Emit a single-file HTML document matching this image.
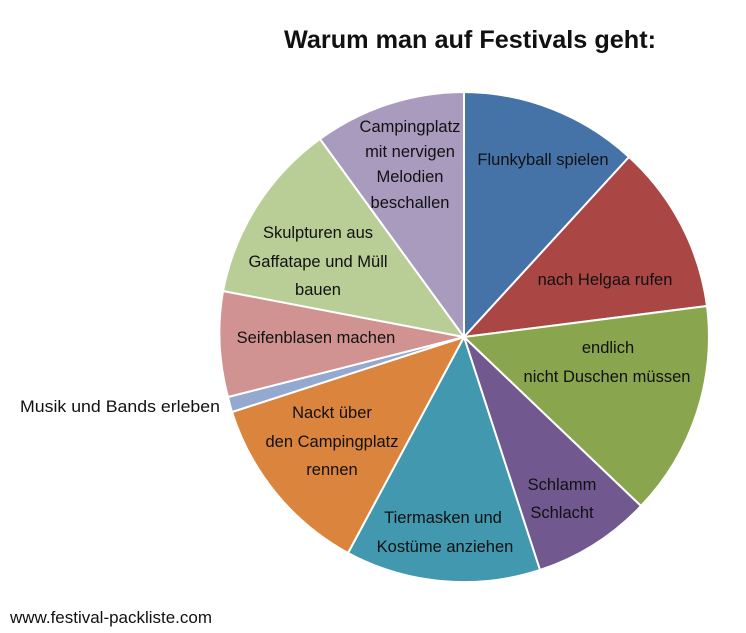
<!DOCTYPE html>
<html><head><meta charset="utf-8"><style>
html,body{margin:0;padding:0;background:#fff;}
svg{display:block;}
text{font-family:"Liberation Sans",sans-serif;font-size:16.5px;fill:#111;}
</style></head><body>
<svg width="746" height="633" viewBox="0 0 746 633" xmlns="http://www.w3.org/2000/svg">
<rect width="746" height="633" fill="#fff"/>
<text x="470" y="48" text-anchor="middle" style="font-size:25px;font-weight:bold" textLength="372" lengthAdjust="spacingAndGlyphs">Warum man auf Festivals geht:</text>
<g stroke="#fff" stroke-width="2" stroke-linejoin="round">
<path d="M464 337 L464 92 A245 245 0 0 1 629 157 Z" fill="#4572a7"/>
<path d="M464 337 L629 157 A245 245 0 0 1 707 306 Z" fill="#aa4643"/>
<path d="M464 337 L707 306 A245 245 0 0 1 641 506 Z" fill="#89a54e"/>
<path d="M464 337 L641 506 A245 245 0 0 1 540 570 Z" fill="#71588f"/>
<path d="M464 337 L540 570 A245 245 0 0 1 348 553 Z" fill="#4198af"/>
<path d="M464 337 L348 553 A245 245 0 0 1 232 412 Z" fill="#db843d"/>
<path d="M464 337 L232 412 A245 245 0 0 1 228 397 Z" fill="#93a9cf"/>
<path d="M464 337 L228 397 A245 245 0 0 1 223 291 Z" fill="#d19392"/>
<path d="M464 337 L223 291 A245 245 0 0 1 320 139 Z" fill="#b9cd96"/>
<path d="M464 337 L320 139 A245 245 0 0 1 464 92 Z" fill="#a99bbd"/>
</g>
<g text-anchor="middle">
<text x="410" y="132">Campingplatz</text>
<text x="410" y="157">mit nervigen</text>
<text x="410" y="182">Melodien</text>
<text x="410" y="208">beschallen</text>
<text x="543" y="165">Flunkyball spielen</text>
<text x="605" y="285">nach Helgaa rufen</text>
<text x="608" y="353">endlich</text>
<text x="607" y="382">nicht Duschen müssen</text>
<text x="562" y="490">Schlamm</text>
<text x="562" y="518">Schlacht</text>
<text x="443" y="523">Tiermasken und</text>
<text x="445" y="552">Kostüme anziehen</text>
<text x="332" y="418">Nackt über</text>
<text x="332" y="447">den Campingplatz</text>
<text x="332" y="475">rennen</text>
<text x="316" y="343">Seifenblasen machen</text>
<text x="318" y="238">Skulpturen aus</text>
<text x="318" y="267">Gaffatape und Müll</text>
<text x="318" y="295">bauen</text>
</g>
<text x="20" y="412" textLength="200" lengthAdjust="spacingAndGlyphs">Musik und Bands erleben</text>
<text x="10" y="623" textLength="202" lengthAdjust="spacingAndGlyphs">www.festival-packliste.com</text>
</svg>
</body></html>
